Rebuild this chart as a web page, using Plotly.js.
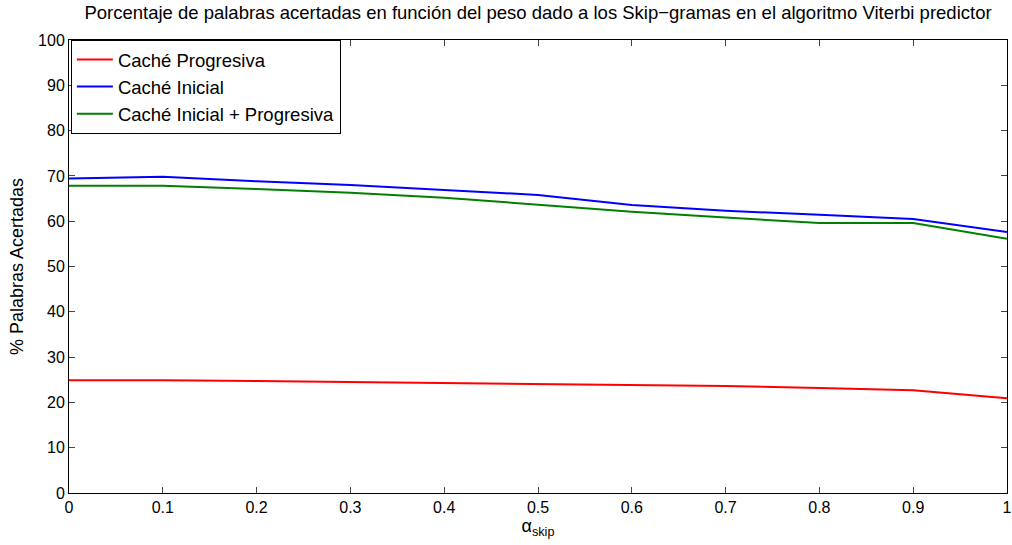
<!DOCTYPE html>
<html>
<head>
<meta charset="utf-8">
<script src="https://cdn.plot.ly/plotly-3.0.1.min.js"></script>
<style>html,body{margin:0;padding:0;background:#fff;}#chart{width:1012px;height:545px;}</style>
</head>
<body>
<div id="chart"></div>
<script>
const alpha = [0, 0.1, 0.2, 0.3, 0.4, 0.5, 0.6, 0.7, 0.8, 0.9, 1.0];
const cacheProgresiva = [24.9, 24.9, 24.7, 24.5, 24.3, 24.1, 23.8, 23.6, 23.2, 22.7, 20.9];
const cacheInicial = [69.4, 69.8, 68.8, 68.0, 66.9, 65.8, 63.6, 62.3, 61.4, 60.5, 57.6];
const cacheInicialProgresiva = [67.8, 67.8, 67.1, 66.3, 65.2, 63.7, 62.1, 60.8, 59.6, 59.6, 56.1];
const seriesNames = ['Caché Progresiva', 'Caché Inicial', 'Caché Inicial + Progresiva'];
const xTicks = [0, 0.1, 0.2, 0.3, 0.4, 0.5, 0.6, 0.7, 0.8, 0.9, 1];
const xTickText = ['0', '0.1', '0.2', '0.3', '0.4', '0.5', '0.6', '0.7', '0.8', '0.9', '1'];
const yTicks = [0, 10, 20, 30, 40, 50, 60, 70, 80, 90, 100];

const colors = ['#ff0000', '#0000ff', '#008000'];
const ys = [cacheProgresiva, cacheInicial, cacheInicialProgresiva];
const traces = ys.map((y, i) => ({
  x: alpha, y: y, type: 'scatter', mode: 'lines', name: seriesNames[i],
  line: {color: colors[i], width: 2}
}));

const font = {family: 'Liberation Sans, Arial, sans-serif', color: '#000'};
const layout = {
  width: 1012, height: 545,
  margin: {l: 69, r: 5, t: 40, b: 52},
  paper_bgcolor: '#fff', plot_bgcolor: '#fff',
  font: Object.assign({size: 16}, font),
  title: {text: 'Porcentaje de palabras acertadas en función del peso dado a los Skip−gramas en el algoritmo Viterbi predictor',
    font: Object.assign({size: 18.5}, font), x: 0.5, xanchor: 'center', xref: 'paper', y: 0.988, yanchor: 'top'},
  xaxis: {range: [0, 1], tickvals: xTicks, ticktext: xTickText, ticks: 'inside', ticklen: 6,
    showline: true, linecolor: '#000', linewidth: 1, mirror: 'ticks', showgrid: false, zeroline: false,
    tickfont: Object.assign({size: 16}, font),
    title: {text: 'α<sub>skip</sub>', font: Object.assign({size: 18}, font), standoff: 2}},
  yaxis: {range: [0, 100], tickvals: yTicks, ticks: 'inside', ticklen: 6,
    showline: true, linecolor: '#000', linewidth: 1, mirror: 'ticks', showgrid: false, zeroline: false,
    tickfont: Object.assign({size: 16}, font),
    title: {text: '% Palabras Acertadas', font: Object.assign({size: 18}, font), standoff: 9}},
  legend: {x: 0.002, y: 1, xanchor: 'left', yanchor: 'top', bordercolor: '#000', borderwidth: 1,
    bgcolor: '#fff', font: Object.assign({size: 18.5}, font), tracegroupgap: 0, itemwidth: 36},
  showlegend: true
};
Plotly.newPlot('chart', traces, layout, {displayModeBar: false, staticPlot: true});
</script>
</body>
</html>
